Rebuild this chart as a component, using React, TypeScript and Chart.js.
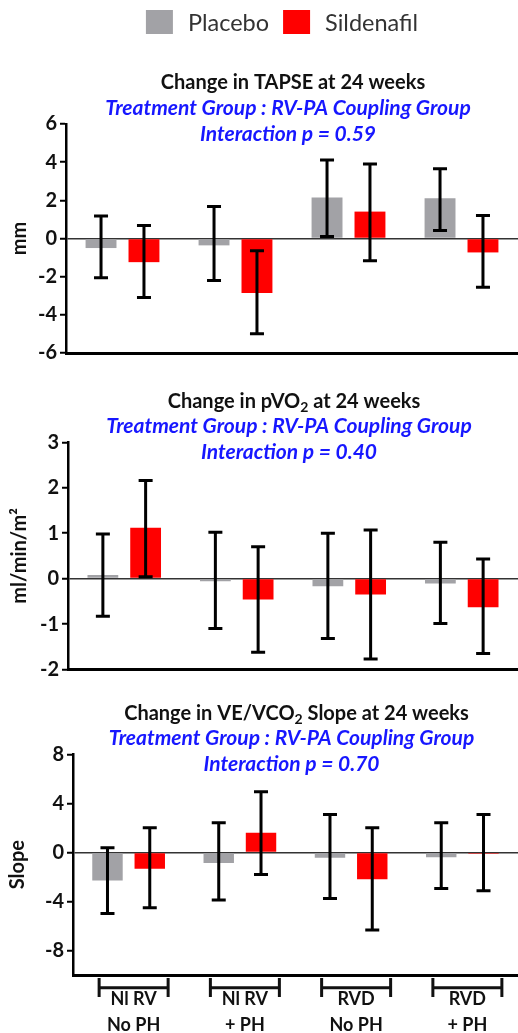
import React, { useEffect, useRef } from "react";
import { Chart, registerables } from "chart.js";

Chart.register(...registerables);

// ---------- DATA ----------
const categories = [["Nl RV", "No PH"], ["Nl RV", "+ PH"], ["RVD", "No PH"], ["RVD", "+ PH"]];
const seriesNames = ["Placebo", "Sildenafil"];

// TAPSE (mm)
const tapsePlacebo = [-0.5, -0.36, 2.15, 2.11];
const tapsePlaceboLow = [-2.06, -2.2, 0.1, 0.42];
const tapsePlaceboHigh = [1.18, 1.68, 4.12, 3.66];
const tapseSildenafil = [-1.24, -2.85, 1.41, -0.73];
const tapseSildenafilLow = [-3.09, -4.99, -1.17, -2.55];
const tapseSildenafilHigh = [0.68, -0.64, 3.91, 1.2];
const tapseTicks = [-6, -4, -2, 0, 2, 4, 6];

// pVO2 (ml/min/m2)
const pvo2Placebo = [0.08, -0.06, -0.17, -0.11];
const pvo2PlaceboLow = [-0.83, -1.1, -1.32, -0.99];
const pvo2PlaceboHigh = [0.98, 1.02, 1.0, 0.8];
const pvo2Sildenafil = [1.12, -0.46, -0.35, -0.63];
const pvo2SildenafilLow = [0.04, -1.62, -1.77, -1.65];
const pvo2SildenafilHigh = [2.16, 0.7, 1.07, 0.43];
const pvo2Ticks = [-2, -1, 0, 1, 2, 3];

// VE/VCO2 slope
const slopePlacebo = [-2.3, -0.87, -0.43, -0.4];
const slopePlaceboLow = [-4.98, -3.89, -3.76, -2.94];
const slopePlaceboHigh = [0.38, 2.42, 3.1, 2.42];
const slopeSildenafil = [-1.33, 1.6, -2.2, -0.12];
const slopeSildenafilLow = [-4.52, -1.8, -6.34, -3.13];
const slopeSildenafilHigh = [2.0, 4.95, 2.0, 3.1];
const slopeTicks = [-10, -8, -4, 0, 4, 8];
const slopeHiddenTicks = [-10];

// ---------- STYLE ----------
const FONT = "Lato, 'Open Sans', sans-serif";
const GRAY = "#a2a2a6";
const RED = "#ff0000";
const BLUE = "#1717ff";
const INK = "#111111";

type Seg = { t: string; sub?: boolean };

function drawSegs(ctx: CanvasRenderingContext2D, segs: Seg[], cx: number, cy: number, size: number, style: string, color: string) {
  const base = `${style} bold ${size}px ${FONT}`;
  const small = `${style} bold ${Math.round(size * 0.68)}px ${FONT}`;
  let w = 0;
  segs.forEach((s) => {
    ctx.font = s.sub ? small : base;
    w += ctx.measureText(s.t).width;
  });
  let x = cx - w / 2;
  ctx.fillStyle = color;
  ctx.textBaseline = "middle";
  ctx.textAlign = "left";
  segs.forEach((s) => {
    ctx.font = s.sub ? small : base;
    ctx.fillText(s.t, x, cy + (s.sub ? size * 0.32 : 0));
    x += ctx.measureText(s.t).width;
  });
}

const errorBarPlugin = {
  id: "errorBars",
  afterDatasetsDraw(chart: any) {
    const ctx = chart.ctx as CanvasRenderingContext2D;
    const y = chart.scales.y;
    chart.data.datasets.forEach((ds: any, i: number) => {
      const meta = chart.getDatasetMeta(i);
      meta.data.forEach((bar: any, j: number) => {
        const lo = y.getPixelForValue(ds.errLow[j]);
        const hi = y.getPixelForValue(ds.errHigh[j]);
        ctx.save();
        ctx.strokeStyle = "#000";
        ctx.lineWidth = 3;
        ctx.beginPath();
        ctx.moveTo(bar.x, lo);
        ctx.lineTo(bar.x, hi);
        ctx.moveTo(bar.x - 7, lo);
        ctx.lineTo(bar.x + 7, lo);
        ctx.moveTo(bar.x - 7, hi);
        ctx.lineTo(bar.x + 7, hi);
        ctx.stroke();
        ctx.restore();
      });
    });
  },
};

function textPlugin(title: Seg[], interaction: string) {
  return {
    id: "panelText",
    afterDraw(chart: any) {
      const ctx = chart.ctx as CanvasRenderingContext2D;
      const { left, right, top } = chart.chartArea;
      const cx = (left + right) / 2;
      ctx.save();
      drawSegs(ctx, title, cx + 1, top - 41, 20, "normal", INK);
      drawSegs(ctx, [{ t: "Treatment Group : RV-PA Coupling Group" }], cx - 4, top - 16, 21, "italic", BLUE);
      drawSegs(ctx, [{ t: interaction }], cx - 4, top + 10, 21, "italic", BLUE);
      ctx.restore();
    },
  };
}

const legendPlugin = {
  id: "topLegend",
  afterDraw(chart: any) {
    const ctx = chart.ctx as CanvasRenderingContext2D;
    const { left, right } = chart.chartArea;
    ctx.save();
    ctx.font = `400 23.5px ${FONT}`;
    const items = chart.data.datasets.map((d: any) => ({ label: d.label, color: d.backgroundColor }));
    const box = 27, boxH = 24, gapText = 15, gapItem = 14;
    const widths = items.map((it: any) => ctx.measureText(it.label).width);
    const total = items.reduce((s: number, _: any, k: number) => s + box + gapText + widths[k], 0) + gapItem * (items.length - 1);
    let x = (left + right) / 2 - 10 - total / 2;
    const cy = 22;
    ctx.textBaseline = "middle";
    ctx.textAlign = "left";
    items.forEach((it: any, k: number) => {
      ctx.fillStyle = it.color;
      ctx.fillRect(x, cy - boxH / 2, box, boxH);
      ctx.fillStyle = "#333";
      ctx.fillText(it.label, x + box + gapText, cy + 1);
      x += box + gapText + widths[k] + gapItem;
    });
    ctx.restore();
  },
};

const bracketPlugin = {
  id: "brackets",
  afterDraw(chart: any) {
    const ctx = chart.ctx as CanvasRenderingContext2D;
    const xs = chart.scales.x;
    const b = chart.chartArea.bottom;
    ctx.save();
    ctx.strokeStyle = INK;
    ctx.lineWidth = 3;
    ctx.beginPath();
    categories.forEach((_, i) => {
      const cx = xs.getPixelForTick(i) + 5;
      ctx.moveTo(cx - 34.5, b + 12.7);
      ctx.lineTo(cx + 34.5, b + 12.7);
      ctx.moveTo(cx - 34.5, b + 3);
      ctx.lineTo(cx - 34.5, b + 22);
      ctx.moveTo(cx + 34.5, b + 3);
      ctx.lineTo(cx + 34.5, b + 22);
    });
    ctx.stroke();
    ctx.restore();
  },
};

type PanelOpts = {
  place: number[]; placeLow: number[]; placeHigh: number[];
  sild: number[]; sildLow: number[]; sildHigh: number[];
  ticks: number[]; hidden: number[];
  yTitle: string; yTitlePad: number; yWidth: number; xHeight: number; padTop: number;
  title: Seg[]; interaction: string;
  legend?: boolean; showCategories?: boolean;
};

function makeConfig(o: PanelOpts): any {
  const plugins: any[] = [errorBarPlugin, textPlugin(o.title, o.interaction)];
  if (o.legend) plugins.push(legendPlugin);
  if (o.showCategories) plugins.push(bracketPlugin);
  const min = Math.min(...o.ticks);
  const max = Math.max(...o.ticks);
  return {
    type: "bar",
    data: {
      labels: categories,
      datasets: [
        { label: seriesNames[0], data: o.place, errLow: o.placeLow, errHigh: o.placeHigh, backgroundColor: GRAY, borderWidth: 0, barPercentage: 0.72, categoryPercentage: 0.76 },
        { label: seriesNames[1], data: o.sild, errLow: o.sildLow, errHigh: o.sildHigh, backgroundColor: RED, borderWidth: 0, barPercentage: 0.72, categoryPercentage: 0.76 },
      ],
    },
    options: {
      responsive: false,
      animation: false,
      devicePixelRatio: 1,
      layout: { padding: { top: o.padTop, left: 0, right: 0, bottom: 0 } },
      plugins: { legend: { display: false }, tooltip: { enabled: false }, title: { display: false } },
      scales: {
        x: {
          offset: true,
          afterFit: (s: any) => { s.height = o.xHeight; },
          border: { display: true, color: "#000", width: 3 },
          grid: { display: false, drawTicks: false },
          ticks: {
            display: !!o.showCategories,
            autoSkip: false,
            maxRotation: 0,
            padding: 11,
            labelOffset: 5,
            color: INK,
            font: { family: FONT, size: 18, weight: "bold", lineHeight: "26px" },
          },
        },
        y: {
          min, max,
          afterBuildTicks: (s: any) => { s.ticks = o.ticks.map((v) => ({ value: v })); },
          afterFit: (s: any) => { s.width = o.yWidth; },
          border: { display: true, color: "#000", width: 2.5 },
          grid: {
            drawOnChartArea: true,
            drawTicks: true,
            color: (c: any) => (c.tick && c.tick.value === 0 ? "#333" : "rgba(0,0,0,0)"),
            lineWidth: 1.5,
            tickLength: 6,
            tickWidth: 2,
            tickColor: (c: any) => (c.tick && o.hidden.includes(c.tick.value) ? "rgba(0,0,0,0)" : "#000"),
          },
          ticks: {
            padding: 3,
            color: INK,
            font: { family: FONT, size: 20, weight: "bold" },
            callback: (v: any) => (o.hidden.includes(Number(v)) ? "" : String(v)),
          },
          title: {
            display: true,
            text: o.yTitle,
            color: INK,
            font: { family: FONT, size: 20, weight: "bold" },
            padding: { top: o.yTitlePad, bottom: 0 },
          },
        },
      },
    },
    plugins,
  };
}

function Panel({ opts, height }: { opts: PanelOpts; height: number }) {
  const ref = useRef<HTMLCanvasElement>(null);
  useEffect(() => {
    if (!ref.current) return;
    const chart = new Chart(ref.current, makeConfig(opts));
    return () => chart.destroy();
  }, []);
  return <canvas ref={ref} width={518} height={height} style={{ display: "block", width: 518, height }} />;
}

const panel1: PanelOpts = {
  place: tapsePlacebo, placeLow: tapsePlaceboLow, placeHigh: tapsePlaceboHigh,
  sild: tapseSildenafil, sildLow: tapseSildenafilLow, sildHigh: tapseSildenafilHigh,
  ticks: tapseTicks, hidden: [],
  yTitle: "mm", yTitlePad: 8, yWidth: 66, xHeight: 17, padTop: 124,
  title: [{ t: "Change in TAPSE at 24 weeks" }],
  interaction: "Interaction p = 0.59",
  legend: true,
};

const panel2: PanelOpts = {
  place: pvo2Placebo, placeLow: pvo2PlaceboLow, placeHigh: pvo2PlaceboHigh,
  sild: pvo2Sildenafil, sildLow: pvo2SildenafilLow, sildHigh: pvo2SildenafilHigh,
  ticks: pvo2Ticks, hidden: [],
  yTitle: "ml/min/m²", yTitlePad: 8, yWidth: 68, xHeight: 20.5, padTop: 72.3,
  title: [{ t: "Change in pVO" }, { t: "2", sub: true }, { t: " at 24 weeks" }],
  interaction: "Interaction p = 0.40",
};

const panel3: PanelOpts = {
  place: slopePlacebo, placeLow: slopePlaceboLow, placeHigh: slopePlaceboHigh,
  sild: slopeSildenafil, sildLow: slopeSildenafilLow, sildHigh: slopeSildenafilHigh,
  ticks: slopeTicks, hidden: slopeHiddenTicks,
  yTitle: "Slope", yTitlePad: 6, yWidth: 73, xHeight: 58, padTop: 64.3,
  title: [{ t: "Change in VE/VCO" }, { t: "2", sub: true }, { t: " Slope at 24 weeks" }],
  interaction: "Interaction p = 0.70",
  showCategories: true,
};

export default function App() {
  return (
    <div style={{ position: "absolute", left: 0, top: 0, width: 518, background: "#fff" }}>
      <Panel opts={panel1} height={370} />
      <Panel opts={panel2} height={320} />
      <Panel opts={panel3} height={343} />
    </div>
  );
}
